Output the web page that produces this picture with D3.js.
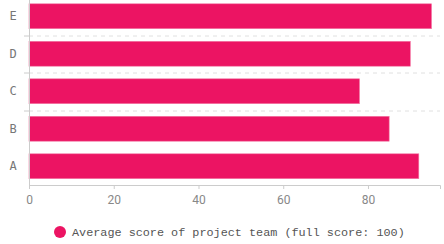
<!DOCTYPE html>
<html>
<head>
<meta charset="utf-8">
<script src="https://cdn.jsdelivr.net/npm/d3@7"></script>
<style>
  body { margin: 0; background: #fff; }
  svg { display: block; }
</style>
</head>
<body>
<div id="chart"></div>
<script>
// data
var teams = ["A", "B", "C", "D", "E"];
var scores = [92, 85, 78, 90, 95];
var xTicks = [0, 20, 40, 60, 80];
var seriesName = "Average score of project team (full score: 100)";

var W = 444, H = 244;
var margin = {top: -2.5, right: 4, bottom: 59, left: 29};
var width = W - margin.left - margin.right,
    height = H - margin.top - margin.bottom;

var svg = d3.select("#chart").append("svg")
    .attr("width", W)
    .attr("height", H);

var g = svg.append("g")
    .attr("transform", "translate(" + margin.left + "," + margin.top + ")");

var x = d3.scaleLinear().domain([0, 97]).range([0, width]);
var y = d3.scaleBand().domain(teams.slice().reverse()).range([0, height]);

// dashed split lines between categories
g.selectAll(".split")
    .data(teams.slice(1))
    .enter().append("line")
    .attr("x1", 0).attr("x2", width)
    .attr("y1", function(d) { return Math.round(y(d)) + 0.5; })
    .attr("y2", function(d) { return Math.round(y(d)) + 0.5; })
    .attr("stroke", "#e0e0e0")
    .attr("stroke-dasharray", "4,4");

// bars
var pad = 6.3;
g.selectAll(".bar")
    .data(teams)
    .enter().append("rect")
    .attr("x", x(0))
    .attr("y", function(d) { return y(d) + pad; })
    .attr("width", function(d, i) { return x(scores[i]) - x(0); })
    .attr("height", y.bandwidth() - 2 * pad)
    .attr("fill", "#ec1463")
    .attr("stroke", "#f37aa6")
    .attr("stroke-width", 0.6);

// x axis
var xAxis = g.append("g")
    .attr("transform", "translate(0," + height + ")")
    .call(d3.axisBottom(x).tickValues(xTicks).tickSize(4).tickPadding(6));
xAxis.select(".domain").attr("stroke", "#ccc");
xAxis.selectAll(".tick line").attr("stroke", "#ccc");
xAxis.selectAll("text")
    .attr("fill", "#888")
    .style("font", "12px Roboto, 'Open Sans', sans-serif");

// y axis: ticks on band boundaries
var yAxis = g.append("g");
yAxis.append("line")
    .attr("x1", 0.5).attr("x2", 0.5)
    .attr("y1", 0).attr("y2", height)
    .attr("stroke", "#ccc");
yAxis.selectAll(".yt")
    .data(teams.slice(1))
    .enter().append("line")
    .attr("x1", -5).attr("x2", 0)
    .attr("y1", function(d) { return Math.round(y(d)) + 0.5; })
    .attr("y2", function(d) { return Math.round(y(d)) + 0.5; })
    .attr("stroke", "#ccc");
yAxis.selectAll(".ylab")
    .data(teams)
    .enter().append("text")
    .attr("x", -16)
    .attr("y", function(d) { return y(d) + y.bandwidth() / 2; })
    .attr("dy", "0.35em")
    .attr("text-anchor", "middle")
    .attr("fill", "#777")
    .style("font", "12px 'DejaVu Sans Mono', monospace")
    .text(function(d) { return d; });

// legend
var legend = svg.append("g").attr("transform", "translate(60,232)");
legend.append("circle").attr("r", 6).attr("fill", "#ec1463");
legend.append("text")
    .attr("x", 12)
    .attr("dy", "0.35em")
    .attr("fill", "#555")
    .style("font", "11.8px 'Liberation Mono', monospace")
    .text(seriesName);
</script>
</body>
</html>
